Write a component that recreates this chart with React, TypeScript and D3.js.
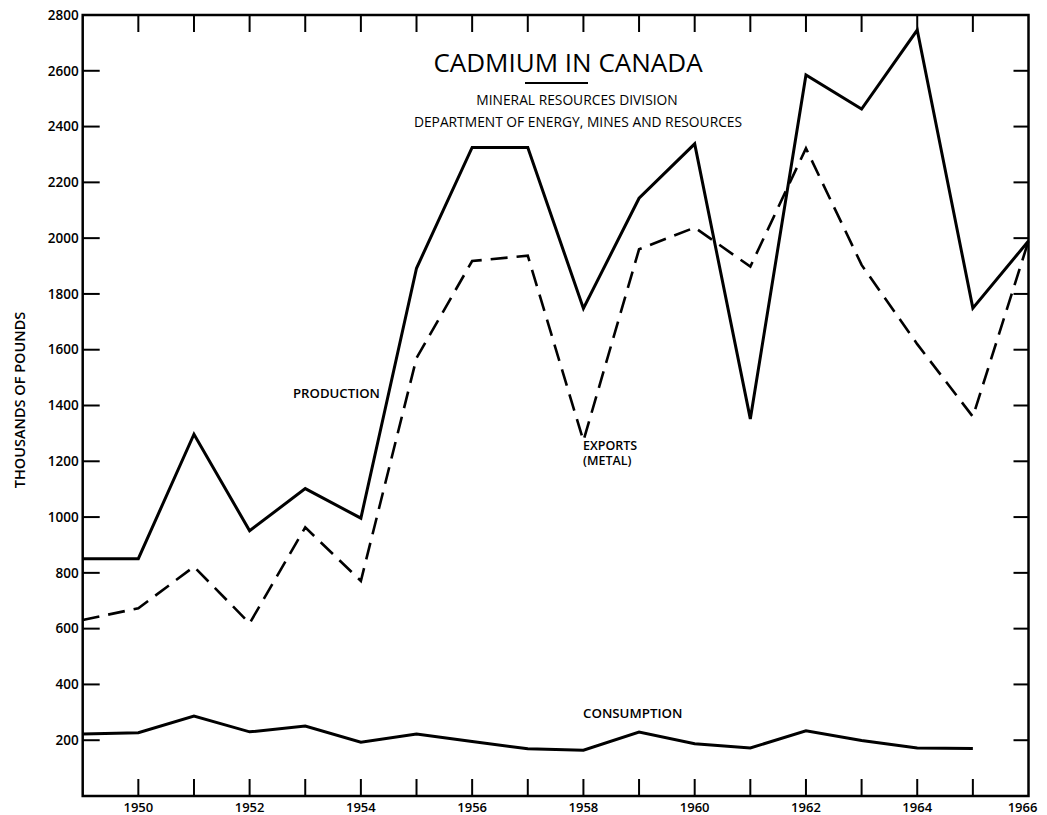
import React from "react";
import * as d3 from "d3";

const years = [1949, 1950, 1951, 1952, 1953, 1954, 1955, 1956, 1957, 1958, 1959, 1960, 1961, 1962, 1963, 1964, 1965, 1966];
const production = [851, 851, 1297, 951, 1102, 996, 1892, 2325, 2325, 1748, 2143, 2338, 1352, 2585, 2463, 2746, 1749, 1990];
const exportsMetal = [631, 673, 822, 619, 963, 771, 1570, 1918, 1937, 1273, 1960, 2038, 1898, 2322, 1904, 1620, 1360, 1990];
const consumptionYears = [1949, 1950, 1951, 1952, 1953, 1954, 1955, 1956, 1957, 1958, 1959, 1960, 1961, 1962, 1963, 1964, 1965];
const consumption = [222, 227, 287, 230, 251, 193, 222, 195, 169, 164, 229, 187, 172, 234, 199, 172, 170];
const yTicks = [200, 400, 600, 800, 1000, 1200, 1400, 1600, 1800, 2000, 2200, 2400, 2600, 2800];
const yTickLabels = ["200", "400", "600", "800", "1000", "1200", "1400", "1600", "1800", "2000", "2200", "2400", "2600", "2800"];
const xLabelYears = [1950, 1952, 1954, 1956, 1958, 1960, 1962, 1964, 1966];

const FONT = "'Open Sans', 'DejaVu Sans', sans-serif";

export default function App() {
  const W = 1047, H = 815;
  const left = 82.7, right = 1028.5, top = 15, bottom = 796;
  const x = d3.scaleLinear().domain([1949, 1966]).range([left, right]);
  const y = d3.scaleLinear().domain([0, 2800]).range([bottom, top]);
  const line = d3.line<[number, number]>().x(d => x(d[0])).y(d => y(d[1]));
  const prodPath = line(years.map((yr, i) => [yr, production[i]] as [number, number])) || "";
  const expPath = line(years.map((yr, i) => [yr, exportsMetal[i]] as [number, number])) || "";
  const conPath = line(consumptionYears.map((yr, i) => [yr, consumption[i]] as [number, number])) || "";
  const tickYears = d3.range(1950, 1966);
  const tl = 17;

  return (
    <svg width={W} height={H} style={{ position: "absolute", left: 0, top: 0, background: "#fff" }} fontFamily={FONT}>
      <rect x={0} y={0} width={W} height={H} fill="#fff" />
      {tickYears.map(yr => (
        <g key={yr}>
          <line x1={x(yr)} x2={x(yr)} y1={bottom} y2={bottom - tl} stroke="#000" strokeWidth={2} />
          <line x1={x(yr)} x2={x(yr)} y1={top} y2={top + tl} stroke="#000" strokeWidth={2} />
        </g>
      ))}
      {yTicks.slice(0, -1).map(v => (
        <g key={v}>
          <line x1={left} x2={left + tl} y1={y(v)} y2={y(v)} stroke="#000" strokeWidth={2} />
          <line x1={right} x2={right - 15} y1={y(v)} y2={y(v)} stroke="#000" strokeWidth={2} />
        </g>
      ))}
      <rect x={left} y={top} width={right - left} height={bottom - top} fill="none" stroke="#000" strokeWidth={2.5} />
      {yTicks.map((v, i) => (
        <text key={v} x={left - 4} y={y(v)} dy="0.35em" textAnchor="end" fontSize={13.5} fontWeight={600} fill="#000">{yTickLabels[i]}</text>
      ))}
      {xLabelYears.map(yr => (
        <text key={yr} x={yr === 1966 ? x(yr) - 6 : x(yr)} y={812} textAnchor="middle" fontSize={13} fontWeight={600} fill="#000">{yr}</text>
      ))}
      <text transform="translate(25,400) rotate(-90)" textAnchor="middle" fontSize={14.5} fontWeight={600} fill="#000">THOUSANDS OF POUNDS</text>
      <path d={prodPath} fill="none" stroke="#000" strokeWidth={3} strokeLinejoin="miter" />
      <path d={expPath} fill="none" stroke="#000" strokeWidth={2.6} strokeDasharray="17,9" />
      <path d={conPath} fill="none" stroke="#000" strokeWidth={3} />
      <text x={568} y={72} textAnchor="middle" fontSize={26} fontWeight={500} fill="#000">CADMIUM IN CANADA</text>
      <line x1={525} x2={588} y1={83} y2={83} stroke="#000" strokeWidth={2} />
      <text x={577} y={105} textAnchor="middle" fontSize={13.8} fontWeight={500} fill="#000">MINERAL RESOURCES DIVISION</text>
      <text x={578} y={127} textAnchor="middle" fontSize={13.8} fontWeight={500} fill="#000">DEPARTMENT OF ENERGY, MINES AND RESOURCES</text>
      <text x={293} y={398} fontSize={13.2} fontWeight={600} fill="#000">PRODUCTION</text>
      <text x={583} y={450} fontSize={12.5} fontWeight={600} fill="#000">EXPORTS</text>
      <text x={583} y={465} fontSize={12.5} fontWeight={600} fill="#000">(METAL)</text>
      <text x={583} y={718} fontSize={13.3} fontWeight={600} fill="#000">CONSUMPTION</text>
    </svg>
  );
}
